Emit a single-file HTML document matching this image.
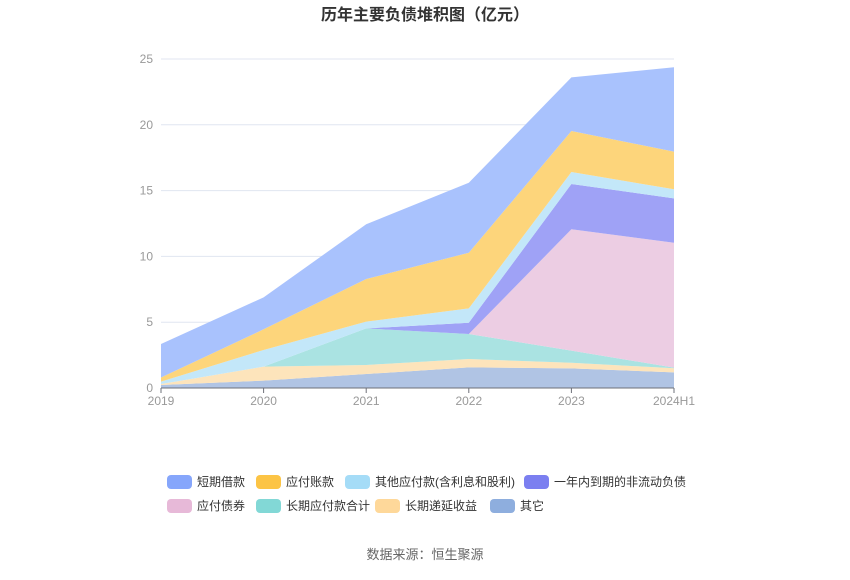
<!DOCTYPE html>
<html><head><meta charset="utf-8"><style>
body{margin:0;background:#fff;font-family:"Liberation Sans","Noto Sans CJK SC",sans-serif}
</style></head><body>
<svg id="c" width="850" height="575" xmlns="http://www.w3.org/2000/svg" font-family="Liberation Sans, Noto Sans CJK SC, sans-serif">
<text x="425" y="20" text-anchor="middle" font-size="16" font-weight="bold" fill="#333">历年主要负债堆积图（亿元）</text>
<g id="grid"></g><g id="areas"></g><g id="axes"></g><g id="legend"></g>
<text x="425" y="559" text-anchor="middle" font-size="13" fill="#666">数据来源：恒生聚源</text>
</svg>
<script>
const categories=["2019","2020","2021","2022","2023","2024H1"];
const yTicks=[0,5,10,15,20,25];
const seriesNames=["其它","长期递延收益","长期应付款合计","应付债券","一年内到期的非流动负债","其他应付款(含利息和股利)","应付账款","短期借款"];
const other=[0.23,0.56,1.06,1.57,1.49,1.19];
const deferredIncome=[0.07,1.06,0.69,0.63,0.43,0.31];
const longTermPayables=[0,0,2.78,1.9,0.92,0.05];
const bonds=[0,0,0,0,9.22,9.49];
const currentNonCurrent=[0,0,0,0.86,3.44,3.37];
const otherPayables=[0.18,1.27,0.51,1.09,0.91,0.69];
const accountsPayable=[0.32,1.57,3.24,4.23,3.12,2.86];
const shortLoans=[2.54,2.43,4.16,5.32,4.07,6.41];
const seriesValues=[other,deferredIncome,longTermPayables,bonds,currentNonCurrent,otherPayables,accountsPayable,shortLoans];
const fills=["#b0c4e4","#fde4bb","#aae3e2","#eccde3","#9fa2f6","#c3e7f9","#fdd57b","#a9c2fd"];
const legendColors=["#8eaede","#fed89a","#82d8d6","#e7b9d8","#7b7ff0","#a5dcf7","#fcc445","#86a6fb"];
const slugs=["other","deferred-income","long-term-payables","bonds-payable","current-non-current","other-payables","accounts-payable","short-term-loans"];
const NS="http://www.w3.org/2000/svg";
const x0=161,x1=674,y0=388,yTop=59,yMax=25;
const xs=i=>x0+(x1-x0)*i/(categories.length-1);
const ys=v=>y0-(y0-yTop)*v/yMax;
function mk(t,a,p){const e=document.createElementNS(NS,t);for(const k in a)e.setAttribute(k,a[k]);p.appendChild(e);return e;}
const grid=document.getElementById('grid'),axes=document.getElementById('axes'),areas=document.getElementById('areas'),legend=document.getElementById('legend');
yTicks.forEach(v=>{
  if(v>0){const l=mk('line',{x1:x0,x2:x1,y1:ys(v),y2:ys(v),stroke:'#e0e6f1'},grid);
  
  }
  const t=mk('text',{x:153,y:ys(v)+4,'text-anchor':'end','font-size':12,fill:'#999'},axes);t.textContent=v;
  
  
});
const ax=mk('line',{x1:x0,x2:x1,y1:y0,y2:y0,stroke:'#6e7079'},axes);


categories.forEach((c,i)=>{
  const tk=mk('line',{x1:xs(i),x2:xs(i),y1:y0,y2:y0+5,stroke:'#6e7079'},axes);
  
  
  const t=mk('text',{x:xs(i),y:y0+17,'text-anchor':'middle','font-size':12,fill:'#999'},axes);t.textContent=c;
  
  
});
let base=categories.map(()=>0);
seriesValues.forEach((vals,s)=>{
  const top=base.map((b,i)=>b+vals[i]);
  let d='M'+top.map((v,i)=>xs(i)+','+ys(v)).join('L');
  for(let i=categories.length-1;i>=0;i--)d+='L'+xs(i)+','+ys(base[i]);
  const p=mk('path',{d:d+'Z',fill:fills[s]},areas);
  
  
  base=top;
});
const legendOrder=[7,6,5,4,3,2,1,0];
const legendPos=[[167,482],[256,482],[345,482],[524,482],[167,506],[256,506],[375,506],[490,506]];
legendOrder.forEach((s,k)=>{
  const [lx,ly]=legendPos[k];
  const g=mk('g',{},legend);
  
  
  mk('rect',{x:lx,y:ly-7,width:25,height:14,rx:4,fill:legendColors[s]},g);
  const t=mk('text',{x:lx+30,y:ly+4,'font-size':12,fill:'#333'},g);t.textContent=seriesNames[s];
});
</script>
</body></html>
